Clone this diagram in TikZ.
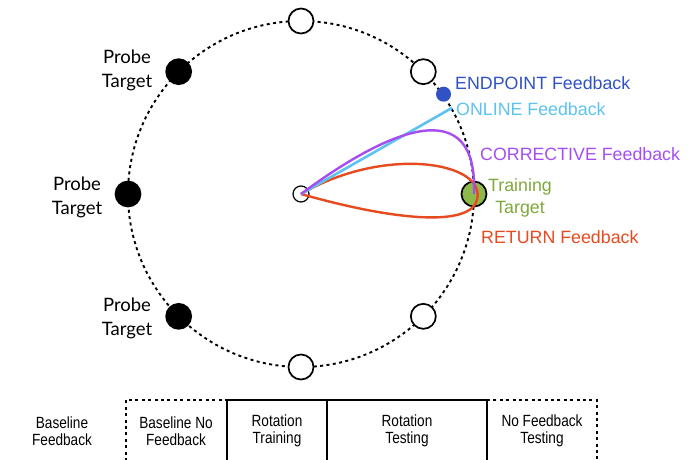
\documentclass[tikz,border=0pt]{standalone}
\usepackage{fontspec}
\setmainfont{Liberation Sans}
\newfontfamily\probefont{Lato}
\newfontfamily\narrowfont{Liberation Sans}[FakeStretch=0.84]
\usepackage{tikz}
\usetikzlibrary{positioning,calc}
\definecolor{endpointblue}{HTML}{3052C4}
\definecolor{onlineblue}{HTML}{5CC2F2}
\definecolor{correctpurple}{HTML}{A64DF2}
\definecolor{traingreen}{HTML}{7FA83C}
\definecolor{trainfill}{HTML}{8DB94B}
\definecolor{returnred}{HTML}{E64A1E}

\begin{document}
\begin{tikzpicture}[x=1pt,y=-1pt]
    \tikzstyle{target}=[draw,circle,line width=1.7pt,minimum size=25pt,inner sep=0pt,fill=white]
    \tikzstyle{probe}=[target,fill=black]
    \tikzstyle{lbl}=[font=\fontsize{17.8}{21}\selectfont,anchor=west,inner sep=0pt]
    \tikzstyle{plbl}=[font=\probefont\fontsize{18.5}{24}\selectfont,align=center,inner sep=0pt]
    \tikzstyle{phase}=[font=\narrowfont\fontsize{16.2}{17.5}\selectfont,align=center,inner sep=0pt]
    \tikzstyle{dots}=[line width=1.9pt,dash pattern=on 3pt off 3.4pt]

    \useasboundingbox (0,0) rectangle (699,460);

    % target ring
    \coordinate (c) at (301,194);
    \draw[dots] (c) circle (173);
    \foreach \a/\n in {-90/t1,-45/t2,45/t3,90/t4} {
      \node[target] (\n) at ($(c)+(\a:173)$) {};
    }
    \foreach \a/\n in {-135/p1,180/p2,135/p3} {
      \node[probe] (\n) at ($(c)+(\a:173)$) {};
    }
    \node[target,fill=trainfill] (train) at ($(c)+(0:173)$) {};
    \node[circle,fill=endpointblue,minimum size=15pt,inner sep=0pt] (endpt) at ($(c)+(-35:174)$) {};
    \coordinate (onlineend) at ($(c)+(-29.7:174)$);
    \coordinate (returntip) at (477,200);
    \node[target,minimum size=16pt,line width=1.2pt] (start) at (c) {};

    % feedback paths
    \draw[returnred,line width=2.4pt] (start.center) .. controls (385,145) and (487,162) .. (returntip)
      .. controls (470,226) and (400,222) .. (start.center);
    \draw[onlineblue,line width=2.6pt] (start.center) -- (onlineend);
    \draw[correctpurple,line width=2.4pt] (start.center) .. controls (390,128) and (478,92) .. (train.center);

    % labels
    \node[lbl,text=endpointblue] (endlbl) at (455,83) {ENDPOINT Feedback};
    \node[lbl,text=onlineblue] (onlinelbl) at (456,109) {ONLINE Feedback};
    \node[lbl,text=correctpurple] (correctlbl) at (480,154) {CORRECTIVE Feedback};
    \node[lbl,anchor=center,align=center,text=traingreen,font=\fontsize{17.8}{22}\selectfont] (trainlbl) at (520,198) {Training\\Target};
    \node[lbl,text=returnred] (returnlbl) at (481,237) {RETURN Feedback};
    \node[plbl] (p1lbl) at (127,70) {Probe\\Target};
    \node[plbl] (p2lbl) at (77,197) {Probe\\Target};
    \node[plbl] (p3lbl) at (127,318) {Probe\\Target};

    % phases
    \draw[dots] (126,461) -- (126,400) -- (227,400);
    \draw[dots] (487,400) -- (597,400) -- (597,461);
    \draw[line width=2.4pt] (227,461) -- (227,400) -- (487,400) -- (487,461);
    \draw[line width=2.4pt] (327,400) -- (327,461);
    \node[phase] (ph1) at (62,431) {Baseline\\Feedback};
    \node[phase] (ph2) at (176,431) {Baseline No\\Feedback};
    \node[phase] (ph3) at (277,431) {Rotation\\Training};
    \node[phase] (ph4) at (407,431) {Rotation\\Testing};
    \node[phase] (ph5) at (542,431) {No Feedback\\Testing};
\end{tikzpicture}
\end{document}
